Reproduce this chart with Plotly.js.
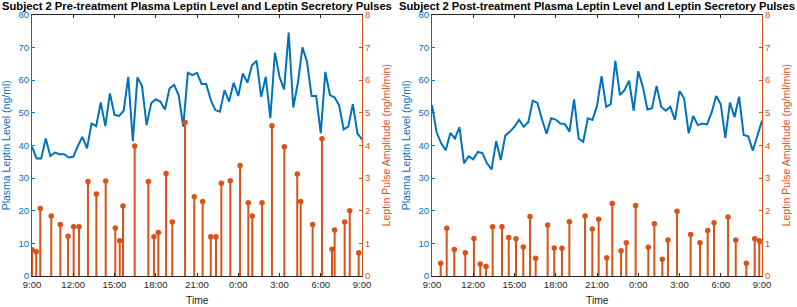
<!DOCTYPE html>
<html>
<head>
<meta charset="utf-8">
<script src="https://cdn.plot.ly/plotly-3.0.1.min.js"></script>
<style>html,body{margin:0;padding:0;background:#fff}#chart{width:797px;height:307px}</style>
</head>
<body>
<div id="chart"></div>
<script>
// ---------- DATA ----------
const titles = [
  "Subject 2 Pre-treatment Plasma Leptin Level and Leptin Secretory Pulses",
  "Subject 2 Post-treatment Plasma Leptin Level and Leptin Secretory Pulses"
];
const tickHours = [0, 3, 6, 9, 12, 15, 18, 21, 24];            // hours after 9:00
const tickLabels = ["9:00", "12:00", "15:00", "18:00", "21:00", "0:00", "3:00", "6:00", "9:00"];
const sampleMinutes = 20;                                          // blood sampling interval

// Plasma leptin (ng/ml), every 20 min from 9:00 to 9:00 next day
const preLeptin = [39.6, 36.0, 36.0, 42.1, 36.7, 37.8, 37.3, 37.3, 36.3, 36.5,
  39.8, 42.6, 39.1, 46.7, 45.9, 53.1, 45.9, 55.9, 49.3, 49.0,
  50.6, 61.0, 41.3, 60.8, 58.2, 46.2, 52.9, 54.1, 53.4, 51.0,
  57.4, 58.5, 55.4, 45.7, 62.2, 61.5, 62.2, 58.8, 58.8, 53.9,
  50.8, 50.3, 56.9, 53.4, 59.2, 55.1, 62.0, 59.2, 64.5, 65.9,
  54.9, 61.0, 48.3, 68.4, 61.0, 57.1, 74.5, 51.6, 59.0, 70.0,
  65.6, 55.1, 55.1, 43.7, 62.5, 55.4, 54.7, 52.3, 44.9, 45.7,
  52.6, 43.7, 41.8];
const postLeptin = [52.3, 44.0, 40.6, 38.5, 43.8, 42.1, 45.6, 34.5, 36.7, 35.7,
  38.0, 37.6, 34.5, 32.6, 41.3, 35.5, 43.0, 44.2, 45.7, 47.8,
  45.7, 47.1, 53.7, 53.0, 47.9, 43.6, 48.3, 47.9, 46.7, 46.5,
  44.2, 54.1, 42.1, 41.1, 48.3, 47.8, 52.0, 61.2, 51.8, 52.6,
  65.9, 55.4, 56.9, 59.8, 50.6, 62.7, 57.9, 51.0, 51.4, 58.2,
  51.8, 50.6, 51.8, 47.8, 56.6, 54.4, 43.7, 49.0, 46.2, 46.7,
  46.4, 50.0, 55.1, 52.6, 42.3, 53.1, 48.6, 54.9, 43.2, 42.8,
  38.4, 42.8, 47.5];

// Leptin secretory pulses: time (hours after 9:00) and amplitude (ng/ml/min)
const prePulseTime = [0.00, 0.31, 0.60, 1.40, 2.06, 2.62, 3.03, 3.42, 4.07, 4.68,
  5.36, 6.06, 6.38, 6.62, 7.47, 8.46, 8.87, 9.19, 9.75, 10.20,
  11.13, 11.80, 12.41, 13.00, 13.38, 13.77, 14.42, 15.13, 15.73, 16.02,
  16.73, 17.45, 18.35, 19.29, 19.54, 20.41, 21.09, 21.82, 22.01, 22.74,
  23.11, 23.76];
const prePulseAmp = [0.80, 0.74, 2.07, 1.84, 1.58, 1.22, 1.51, 1.51, 2.89, 2.51,
  2.91, 1.47, 1.08, 2.14, 3.98, 2.89, 1.20, 1.33, 3.14, 1.65,
  4.70, 2.43, 2.28, 1.20, 1.20, 2.84, 2.92, 3.38, 2.24, 1.84,
  2.24, 4.60, 3.96, 3.12, 2.28, 1.58, 4.20, 0.82, 1.41, 1.65,
  2.00, 0.71];
const postPulseTime = [0.63, 1.07, 1.62, 2.42, 3.05, 3.51, 3.93, 4.41, 5.09, 5.58,
  6.11, 6.64, 7.13, 7.54, 8.41, 8.89, 9.45, 9.99, 11.13, 11.66,
  12.12, 12.71, 13.11, 13.75, 14.13, 14.81, 15.73, 16.17, 16.75, 17.16,
  17.82, 18.81, 19.49, 20.05, 20.51, 21.53, 22.09, 22.86, 23.47, 23.80];
const postPulseAmp = [0.39, 1.46, 0.81, 0.71, 1.15, 0.37, 0.29, 1.51, 1.51, 1.18,
  1.14, 0.89, 1.82, 0.54, 1.56, 0.86, 0.85, 1.66, 1.84, 1.44,
  1.74, 0.56, 2.22, 0.77, 1.02, 2.16, 0.88, 1.60, 0.51, 1.10,
  1.98, 1.27, 1.02, 1.39, 1.63, 1.81, 1.10, 0.39, 1.14, 1.08];

// ---------- STYLE ----------
const BLUE = "#0072BD", ORANGE = "#D95319", DARK = "#262626";
const FONT = "Liberation Sans, Arial, Helvetica, sans-serif";
const W = 797, H = 307;
const panels = [
  {x0: 32, x1: 362, leptin: preLeptin, pt: prePulseTime, pa: prePulseAmp},
  {x0: 432, x1: 762, leptin: postLeptin, pt: postPulseTime, pa: postPulseAmp}
];
const yTop = 14.7, yBot = 276;
const yDom = [(H - yBot) / H, (H - yTop) / H];

const traces = [];
const layout = {
  width: W, height: H,
  margin: {l: 0, r: 0, t: 0, b: 0},
  paper_bgcolor: "#fff", plot_bgcolor: "rgba(0,0,0,0)",
  showlegend: false,
  font: {family: FONT, size: 10, color: DARK},
  annotations: []
};

panels.forEach((p, k) => {
  const xa = k === 0 ? "x" : "x2";
  const yl = k === 0 ? "y" : "y3";
  const yr = k === 0 ? "y2" : "y4";
  const xKey = k === 0 ? "xaxis" : "xaxis2";
  const ylKey = k === 0 ? "yaxis" : "yaxis3";
  const yrKey = k === 0 ? "yaxis2" : "yaxis4";
  const times = p.leptin.map((_, i) => i * sampleMinutes / 60);

  traces.push({
    type: "scatter", mode: "lines", x: times, y: p.leptin,
    xaxis: xa, yaxis: yl,
    line: {color: BLUE, width: 2}, hoverinfo: "x+y"
  });
  traces.push({
    type: "scatter", mode: "markers", x: p.pt, y: p.pa,
    xaxis: xa, yaxis: yr,
    marker: {color: ORANGE, size: 5.5, line: {width: 0}},
    error_y: {type: "data", symmetric: false, array: p.pa.map(() => 0),
              arrayminus: p.pa, width: 0, thickness: 2, color: ORANGE},
    hoverinfo: "x+y"
  });

  const dom = [p.x0 / W, p.x1 / W];
  layout[xKey] = {
    domain: dom, anchor: yl, range: [0, 24],
    tickmode: "array", tickvals: tickHours, ticktext: tickLabels,
    ticks: "inside", ticklen: 3, tickwidth: 1, tickcolor: DARK,
    showline: true, linecolor: DARK, linewidth: 1, mirror: "ticks",
    showgrid: false, zeroline: false,
    tickfont: {family: FONT, size: 9.5, color: DARK}
  };
  layout[ylKey] = {
    domain: yDom, anchor: xa, range: [0, 80], dtick: 10,
    ticks: "inside", ticklen: 3, tickwidth: 1, tickcolor: BLUE,
    showline: true, linecolor: BLUE, linewidth: 1,
    showgrid: false, zeroline: false,
    tickfont: {family: FONT, size: 9.5, color: BLUE}
  };
  layout[yrKey] = {
    domain: yDom, anchor: xa, overlaying: yl, side: "right",
    range: [0, 8], dtick: 1,
    ticks: "inside", ticklen: 3, tickwidth: 1, tickcolor: ORANGE,
    showline: true, linecolor: ORANGE, linewidth: 1,
    showgrid: false, zeroline: false,
    tickfont: {family: FONT, size: 9.5, color: ORANGE}
  };

  const cx = (p.x0 + p.x1) / 2 / W;
  const cy = (yDom[0] + yDom[1]) / 2;
  layout.annotations.push(
    {text: titles[k], xref: "paper", yref: "paper", x: cx, y: (H - 6) / H,
     xanchor: "center", yanchor: "middle", showarrow: false,
     font: {family: FONT, size: 11.2, color: "#000", weight: "bold"}},
    {text: "Time", xref: "paper", yref: "paper", x: cx, y: (H - 300) / H,
     xanchor: "center", yanchor: "middle", showarrow: false,
     font: {family: FONT, size: 10.3, color: DARK}},
    {text: "Plasma Leptin Level (ng/ml)", xref: "paper", yref: "paper",
     x: (p.x0 - 26) / W, y: cy, xanchor: "center", yanchor: "middle",
     textangle: -90, showarrow: false,
     font: {family: FONT, size: 10.5, color: BLUE}},
    {text: "Leptin Pulse Amplitude (ng/ml/min)", xref: "paper", yref: "paper",
     x: (p.x1 + 24) / W, y: cy, xanchor: "center", yanchor: "middle",
     textangle: -90, showarrow: false,
     font: {family: FONT, size: 10.5, color: ORANGE}}
  );
});

Plotly.newPlot("chart", traces, layout, {displayModeBar: false, staticPlot: true});
</script>
</body>
</html>
